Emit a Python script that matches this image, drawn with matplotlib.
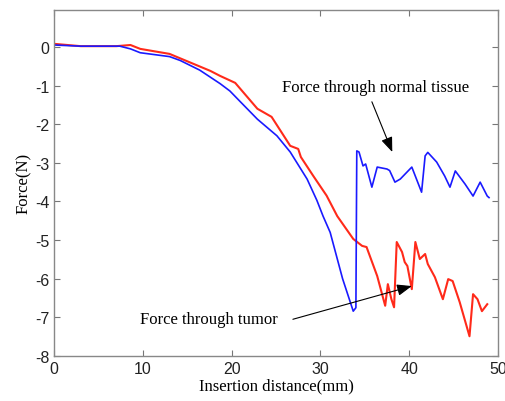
"""Needle insertion force: normal tissue vs. tumor."""

import matplotlib

matplotlib.use("Agg")
import matplotlib.pyplot as plt

# blue: force through normal tissue (mm, N)
normal_x = [0, 3, 7.4, 8.6, 9.7, 13.0, 14.2, 16.4, 18.7, 19.8, 20.9, 22.9, 25.1,
            26.6, 28.5, 29.6, 30.3, 31.1, 32.5, 33.7, 34.0,
            34.1, 34.35, 34.8, 35.1, 35.8, 36.4, 37.5, 37.8, 38.4, 39.0, 40.3,
            41.4, 41.8, 42.1, 43.1, 44.0, 44.6, 45.2, 46.3, 47.2, 48.0, 48.8, 49.0]
normal_y = [0.05, 0.02, 0.02, -0.05, -0.15, -0.25, -0.35, -0.6, -0.95, -1.14, -1.4,
            -1.87, -2.3, -2.72, -3.42, -3.97, -4.38, -4.8, -6.0, -6.84, -6.75,
            -2.69, -2.72, -3.08, -3.03, -3.63, -3.11, -3.16, -3.2, -3.5, -3.42,
            -3.11, -3.76, -2.82, -2.73, -2.98, -3.34, -3.63, -3.21, -3.55, -3.86,
            -3.5, -3.86, -3.9]

# red: force through tumor (mm, N)
tumor_x = [0, 3, 7.0, 8.6, 9.7, 13.0, 15.3, 17.6, 18.7, 20.4, 22.9, 24.5, 26.6,
           27.5, 27.8, 29.2, 30.7, 31.9, 33.7, 34.7, 35.2, 36.4, 37.3, 37.6,
           38.0, 38.3, 38.6, 39.2, 39.5, 39.8, 40.3, 40.7, 41.2, 41.8, 42.1,
           42.9, 43.8, 44.4, 44.9, 45.7, 46.8, 47.2, 47.7, 48.2, 48.8]
tumor_y = [0.08, 0.02, 0.02, 0.05, -0.05, -0.18, -0.4, -0.62, -0.75, -0.93, -1.6,
           -1.81, -2.56, -2.64, -2.85, -3.34, -3.85, -4.38, -4.97, -5.15, -5.18,
           -5.93, -6.7, -6.14, -6.53, -6.74, -5.05, -5.31, -5.57, -5.67, -6.27,
           -5.05, -5.49, -5.36, -5.62, -5.96, -6.53, -6.01, -6.06, -6.61, -7.49,
           -6.4, -6.53, -6.84, -6.66]

x_ticks = [0, 10, 20, 30, 40, 50]
y_ticks = [-8, -7, -6, -5, -4, -3, -2, -1, 0]

serif = ["Liberation Serif", "DejaVu Serif"]
plt.rcParams["axes.unicode_minus"] = False

fig = plt.figure(figsize=(5.06, 4.02), dpi=100)
ax = fig.add_axes([0.107, 0.112, 0.877, 0.861])

ax.plot(tumor_x, tumor_y, color="#ff2a1a", linewidth=1.5)
ax.plot(normal_x, normal_y, color="#1a1aff", linewidth=1.2)

ax.set_xlim(0, 50)
ax.set_ylim(-8, 0.96)
ax.set_xticks(x_ticks)
ax.set_yticks(y_ticks)
ax.tick_params(direction="in", length=4, top=True, right=True,
               color="#777777", labelsize=11.5, labelcolor="#222222")
for lbl in ax.get_xticklabels() + ax.get_yticklabels():
    lbl.set_family(["Liberation Sans", "DejaVu Sans"])
for s in ax.spines.values():
    s.set_color("#888888")
    s.set_linewidth(1.0)

ax.set_xlabel("Insertion distance(mm)", family=serif, fontsize=12, labelpad=1)
ax.set_ylabel("Force(N)", family=serif, fontsize=12, labelpad=2)

arrow = dict(arrowstyle="-|>,head_length=0.9,head_width=0.35", color="black",
             linewidth=0.8, shrinkA=0, shrinkB=0)
ax.text(25.7, -1.04, "Force through normal tissue", family=serif, fontsize=12,
        va="center", ha="left")
ax.annotate("", xy=(38.1, -2.72), xytext=(35.8, -1.42), arrowprops=arrow)
ax.text(9.7, -7.05, "Force through tumor", family=serif, fontsize=12,
        va="center", ha="left")
ax.annotate("", xy=(40.3, -6.19), xytext=(26.9, -7.05), arrowprops=arrow)

fig.savefig("out.png", dpi=100)
